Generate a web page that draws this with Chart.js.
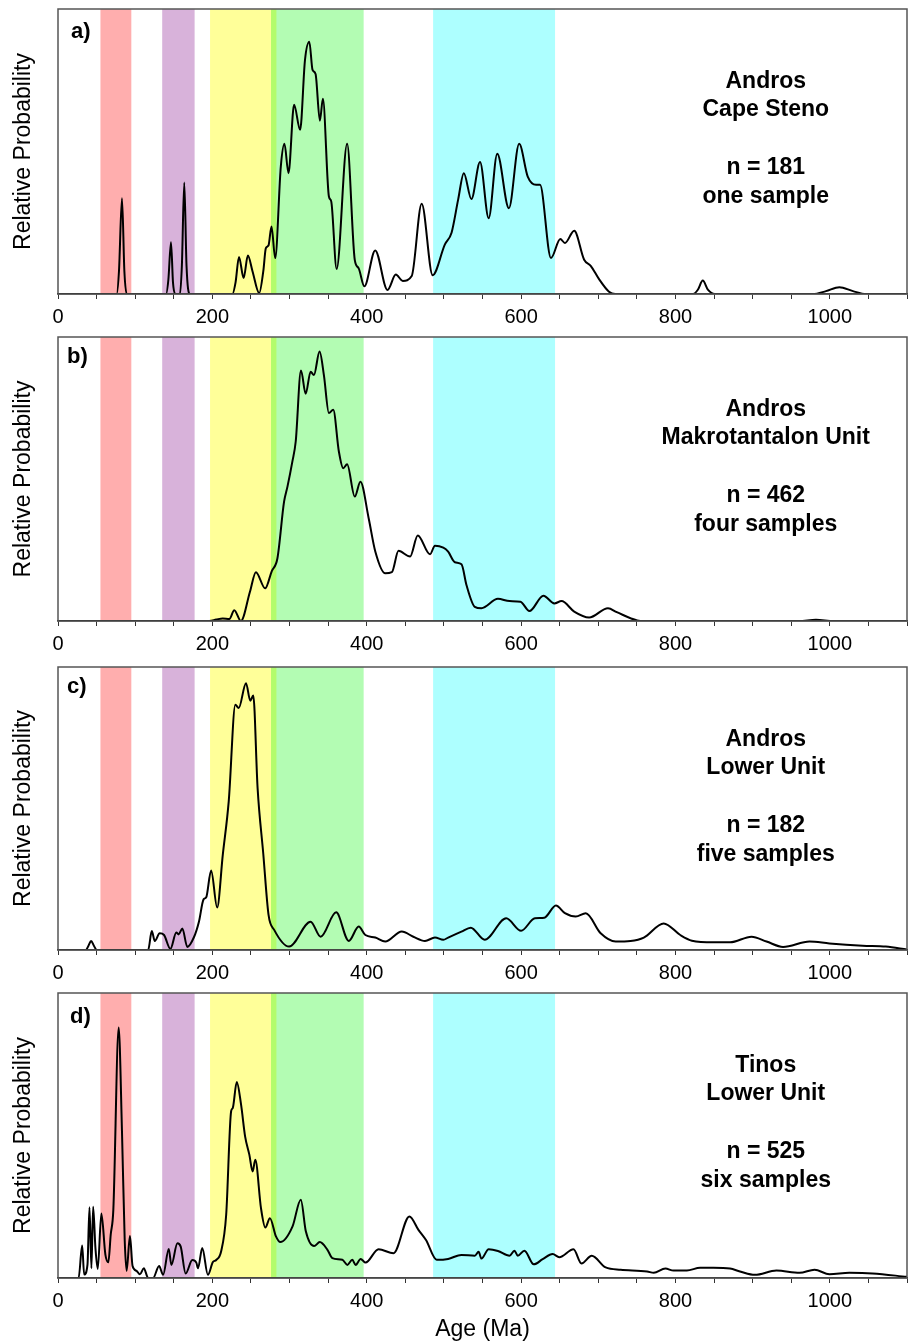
<!DOCTYPE html>
<html>
<head>
<meta charset="utf-8">
<script src="https://cdn.jsdelivr.net/npm/chart.js@4.4.1/dist/chart.umd.min.js"></script>
<style>
  body { margin: 0; background: #fff; }
  .panel { position: absolute; left: 0; width: 913px; }
</style>
</head>
<body>
<div class="panel" style="top:0;height:330px"><canvas id="chartA"></canvas></div>
<div class="panel" style="top:330px;height:328px"><canvas id="chartB"></canvas></div>
<div class="panel" style="top:658px;height:329px"><canvas id="chartC"></canvas></div>
<div class="panel" style="top:987px;height:356px"><canvas id="chartD"></canvas></div>
<script>
// age bands (Ma) and their colours
var bandStart = [55, 135, 197, 276, 486];
var bandEnd = [95, 177, 283, 396, 644];
var bandColors = ['#ffaeae', '#d8b2da', '#ffff99', '#b3fcb3', '#adffff'];

// a) Andros Cape Steno
var agesA = [0, 76, 79, 82.9, 86, 89, 140, 143, 146.4, 149, 152, 158, 160.5, 163.6, 166.5, 170.5, 226, 230, 234.5, 240.5, 246, 252, 260.7, 266, 269.3, 272.7, 276.6, 281.4, 288.7, 293.4, 298.6, 305.9, 313.7, 320, 325.6, 329.8, 333.7, 339.3, 343.2, 351, 354, 361, 374.6, 384.5, 389.6, 396.9, 411, 426.9, 437.7, 446.7, 458.3, 471.2, 485.4, 501.3, 509.9, 518.5, 525.8, 535.6, 546.8, 558, 569.1, 584.2, 597.5, 608.6, 619.4, 624.5, 638.7, 650.8, 656.8, 668.8, 681.7, 690.2, 701, 713.9, 722, 823, 829, 835.4, 842, 851, 978, 995, 1012.4, 1030, 1047, 1100];
var probA = [0, 0, 8, 33.6, 8, 0, 0, 5, 18.2, 4, 0, 0, 10, 39.1, 10, 0, 0, 4, 13, 5.6, 13.5, 8, 0.3, 8, 16.1, 17, 23.7, 12.6, 44.8, 52.7, 42.4, 66.4, 57.6, 82.1, 88.5, 78.6, 77.2, 60.8, 68.5, 34.2, 32.5, 8.8, 52.7, 12, 9, 2.7, 15.3, 1.4, 6.8, 4.6, 6.3, 31.7, 6.6, 17.4, 21.5, 33.2, 42.4, 33.3, 46.3, 26.6, 49.2, 30.1, 52.7, 41.2, 38.3, 38.3, 12.6, 19.3, 17.9, 22.2, 12, 9.9, 5.2, 0.8, 0, 0, 1.5, 4.7, 1.5, 0, 0, 1, 2.4, 1, 0, 0];

// b) Andros Makrotantalon Unit
var agesB = [0, 196, 205, 213.4, 222, 228.4, 237, 248.7, 256.4, 268.4, 277, 284.3, 292.9, 297.3, 303.7, 308, 314.8, 320.9, 327.3, 331.6, 338.9, 344.5, 351, 356.6, 363.9, 369.5, 374.6, 384.5, 391.8, 402.5, 411.1, 424, 432.6, 441.2, 456.2, 466.1, 482, 488.4, 499.2, 505.5, 514.2, 522.8, 529.2, 540, 548.6, 570, 585, 599.2, 610.8, 628.9, 643, 652.4, 668.8, 688.1, 712.6, 724, 750.4, 760, 960, 982, 1005, 1100];
var probB = [0, 0, 0.5, 0.9, 0.7, 3.8, 0, 10.3, 17.2, 11.5, 17.6, 22.1, 42, 47.3, 56.2, 63.2, 88.2, 80, 87.8, 86.6, 94.9, 86.6, 73.2, 74.4, 59.7, 53.8, 55.2, 43.8, 49, 36.2, 24.5, 16.8, 17.2, 24.7, 22.7, 30.1, 23.5, 26.5, 25.8, 24.4, 20.7, 20, 12.7, 5, 4.5, 7.8, 7, 6.8, 3.5, 8.9, 6.2, 7, 3.3, 1.2, 4.5, 3.1, 0.2, 0, 0, 0.4, 0, 0];

// c) Andros Lower Unit
var agesC = [0, 36, 39.5, 42.9, 46.5, 50.3, 116.8, 121.5, 125.4, 131.8, 137.4, 145.6, 153.3, 156.3, 161.1, 167.5, 176.1, 182.6, 188.6, 192, 198.4, 206.2, 213.5, 221.2, 229.8, 234.1, 243.6, 249.1, 253, 258.6, 265.9, 272.8, 280.1, 299.4, 327.3, 340.2, 360.4, 376.7, 389.6, 398.2, 411.1, 424, 445.4, 460.4, 475.5, 488.4, 499.2, 505.5, 522.7, 534.8, 552.8, 580.7, 600, 617.9, 630.1, 645.1, 656.8, 670.9, 683.8, 703.1, 722.5, 741.8, 759, 784.8, 806.2, 821.3, 849.2, 870.7, 898.6, 918, 939.4, 973.7, 999.5, 1042.5, 1072.5, 1100];
var probC = [0, 0, 1.5, 3.2, 1.5, 0, 0, 6.7, 3.2, 5.9, 5.3, 0.4, 6.2, 5.5, 7.6, 1.1, 4.5, 10, 17.9, 18.6, 28.1, 15, 33.6, 52.5, 86.7, 85.5, 94.3, 88.1, 89.9, 57.2, 34.2, 12.4, 7.1, 1.2, 10, 4.7, 13.3, 3.2, 8.3, 5.3, 4.4, 3, 6.5, 4.7, 3.2, 4.4, 3.6, 4.4, 6.5, 7.9, 3.6, 11.2, 6.8, 11.2, 11.4, 15.7, 13, 11.8, 13, 5.9, 3, 3.2, 4.4, 9.4, 5.3, 3.3, 2.7, 2.7, 4.7, 3, 1.1, 3, 2.3, 1.5, 1.2, 0.2];

// d) Tinos Lower Unit
var agesD = [0, 26.7, 31.3, 33.9, 38.2, 40.8, 43.3, 45.5, 48.5, 51.5, 56.2, 61.4, 65.2, 68.3, 71.7, 78.6, 82.9, 86.4, 88.9, 93.2, 96.6, 101.8, 106.1, 111.2, 116.8, 123.2, 131, 136.2, 143.5, 146.9, 154.7, 159, 165.4, 174, 179.2, 181.4, 186.9, 194.2, 200.7, 205, 211.4, 217.9, 224.3, 226.4, 231.6, 237.2, 242.4, 247.9, 252.2, 255.6, 263, 268.6, 274.6, 282.4, 288, 303.9, 314.6, 321.1, 331.8, 339.2, 349.1, 355.5, 368.4, 374.9, 381.3, 385.6, 392.1, 398.5, 415.3, 434.7, 455.3, 467, 476.8, 490.6, 505.5, 522.7, 540, 545, 548.6, 558, 570, 585, 591.4, 595.7, 604.3, 616.4, 628, 640.9, 649.5, 667.9, 678.2, 691.5, 709.6, 729, 763.3, 771.9, 786.9, 797.6, 814.8, 832, 849.2, 870.7, 883.6, 902.9, 930.8, 960.9, 980.2, 999.5, 1025.3, 1055.4, 1100];
var probD = [0, 0, 11.4, 1.2, 4.7, 24.8, 3.4, 25, 10.5, 3.2, 22.6, 8.2, 5.5, 15.2, 24, 87.9, 51.4, 13.5, 2.5, 14.7, 4.2, 2.5, 1.3, 3.4, 0, 0, 4.2, 1.1, 10.2, 4.6, 12.2, 11, 1.6, 6.3, 5.4, 3.4, 10.5, 1.1, 5.6, 6.3, 9.4, 22.2, 58.5, 59.6, 68.8, 60.8, 49.7, 43.3, 37.4, 41.5, 24.5, 17.7, 21, 14.6, 12.6, 18.1, 27.5, 16.4, 11.2, 12.6, 9.9, 7, 6.4, 4.6, 6.4, 4.6, 6.7, 5.4, 10.1, 8.7, 21.6, 16.9, 13.3, 6.4, 6.7, 8.1, 7.8, 9.2, 6.8, 10.1, 9.5, 7.8, 9.6, 7.8, 9.6, 4.8, 6.6, 8.4, 7.3, 10.1, 5.1, 7.8, 3.7, 2.9, 2.3, 1.8, 3.3, 2.6, 2.6, 3.6, 3.6, 3.3, 2.3, 1.1, 2.6, 1.8, 2.9, 1.3, 1.8, 1.6, 0.4];

var panelLetters = ['a)', 'b)', 'c)', 'd)'];
var panelLines = [
    ['Andros', 'Cape Steno', 'n = 181', 'one sample'],
    ['Andros', 'Makrotantalon Unit', 'n = 462', 'four samples'],
    ['Andros', 'Lower Unit', 'n = 182', 'five samples'],
    ['Tinos', 'Lower Unit', 'n = 525', 'six samples']
];

var FONT = 'Arial, "Liberation Sans", sans-serif';

// colour bands multiplied over the curve, like in the original figure
var bandsPlugin = {
    id: 'bands',
    afterDatasetsDraw: function(chart) {
        var ctx = chart.ctx, area = chart.chartArea, xs = chart.scales.x;
        ctx.save();
        ctx.globalCompositeOperation = 'multiply';
        for (var i = 0; i < bandStart.length; i++) {
            var x0 = xs.getPixelForValue(bandStart[i]);
            var x1 = xs.getPixelForValue(bandEnd[i]);
            ctx.fillStyle = bandColors[i];
            ctx.fillRect(x0, area.top, x1 - x0, area.bottom - area.top);
        }
        ctx.restore();
    }
};

// frame, panel letter and sample text
var decoPlugin = {
    id: 'deco',
    afterDraw: function(chart) {
        var ctx = chart.ctx, area = chart.chartArea, opts = chart.options.plugins.deco;
        ctx.save();
        ctx.strokeStyle = '#555';
        ctx.lineWidth = 1.5;
        ctx.strokeRect(area.left, area.top, area.right - area.left, area.bottom - area.top);
        ctx.fillStyle = '#000';
        ctx.font = 'bold 22px ' + FONT;
        ctx.textAlign = 'left';
        ctx.textBaseline = 'middle';
        ctx.fillText(opts.letter, area.left + opts.letterX, area.top + opts.letterY);
        ctx.font = 'bold 23px ' + FONT;
        ctx.textAlign = 'center';
        var cx = chart.scales.x.getPixelForValue(917);
        var offs = [73, 101, 159, 188];
        for (var i = 0; i < opts.lines.length; i++) {
            ctx.fillText(opts.lines[i], cx, area.top + offs[i]);
        }
        ctx.restore();
    }
};

function makePanel(id, ages, probs, idx, padTop, axisHeight, showTitle, letterX, letterY) {
    var pts = ages.map(function(a, i) { return { x: a, y: probs[i] }; });
    return new Chart(document.getElementById(id).getContext('2d'), {
        type: 'line',
        data: {
            datasets: [{
                data: pts,
                borderColor: '#000',
                borderWidth: 2,
                pointRadius: 0,
                tension: 0.35,
                cubicInterpolationMode: 'monotone',
                fill: false
            }]
        },
        plugins: [bandsPlugin, decoPlugin],
        options: {
            responsive: true,
            maintainAspectRatio: false,
            animation: false,
            events: [],
            layout: { padding: { top: padTop, right: 2, left: 0, bottom: 0 } },
            plugins: {
                legend: { display: false },
                tooltip: { enabled: false },
                deco: { letter: panelLetters[idx], lines: panelLines[idx], letterX: letterX, letterY: letterY }
            },
            scales: {
                x: {
                    type: 'linear',
                    min: 0,
                    max: 1100,
                    afterFit: function(s) { s.height = axisHeight; },
                    border: { display: true, color: '#222', width: 1.5 },
                    grid: { drawOnChartArea: false, drawTicks: true, tickLength: 5, color: '#333', lineWidth: 1 },
                    ticks: {
                        stepSize: 50,
                        autoSkip: false,
                        maxRotation: 0,
                        padding: 6,
                        color: '#000',
                        font: { family: FONT, size: 20 },
                        callback: function(v) { return v % 200 === 0 ? String(v) : ''; }
                    },
                    title: {
                        display: showTitle,
                        text: 'Age (Ma)',
                        color: '#000',
                        font: { family: FONT, size: 23 },
                        padding: { top: 0, bottom: 0 }
                    }
                },
                y: {
                    min: 0,
                    max: 100,
                    afterFit: function(s) { s.width = 58; },
                    border: { display: false },
                    grid: { display: false },
                    ticks: { display: false },
                    title: {
                        display: true,
                        text: 'Relative Probability',
                        color: '#000',
                        font: { family: FONT, size: 23 },
                        padding: { top: 10, bottom: 0 }
                    }
                }
            }
        }
    });
}

makePanel('chartA', agesA, probA, 0, 9, 36, false, 13, 23);
makePanel('chartB', agesB, probB, 1, 7, 37, false, 9, 20);
makePanel('chartC', agesC, probC, 2, 9, 37, false, 9, 20);
makePanel('chartD', agesD, probD, 3, 6, 65, true, 12, 24);
</script>
</body>
</html>
